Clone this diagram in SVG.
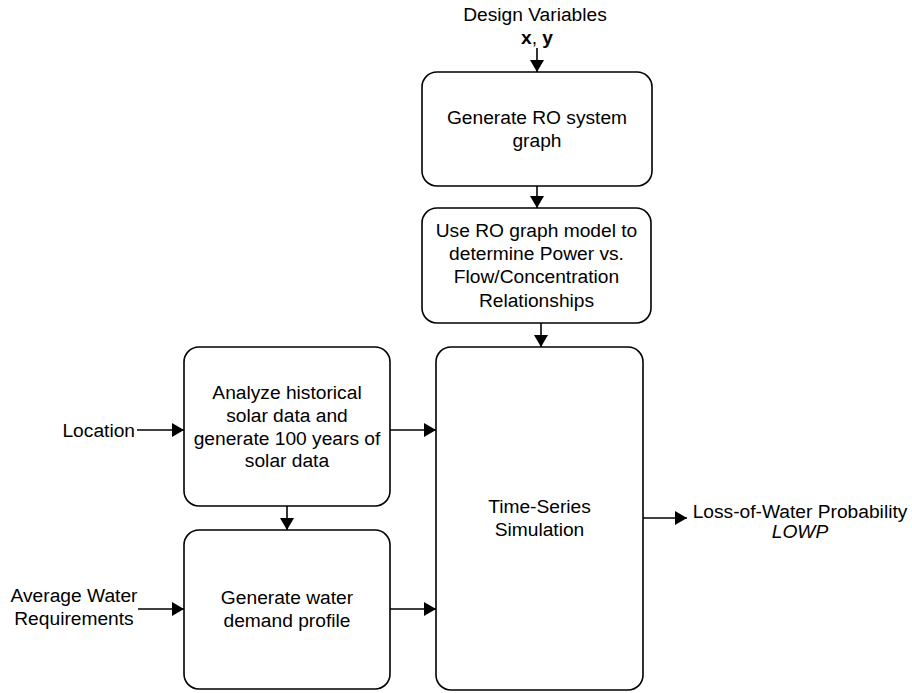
<svg xmlns="http://www.w3.org/2000/svg" width="912" height="693" viewBox="0 0 912 693">
  <style>
    .box { fill: #ffffff; stroke: #000000; stroke-width: 1.6; }
    .edge { fill: none; stroke: #000000; stroke-width: 1.6; }
    text { font-family: "Liberation Sans", Arial, Helvetica, sans-serif; font-size: 19.2px; fill: #000000; }
    .c { text-anchor: middle; }
  </style>
  <defs>
    <marker id="arrow" markerUnits="userSpaceOnUse" markerWidth="13" markerHeight="14" refX="12" refY="7" orient="auto">
      <path d="M0,0 L12,7 L0,14 z" fill="#000000"/>
    </marker>
  </defs>

  <rect width="912" height="693" fill="#ffffff"/>

  <!-- connectors -->
  <g id="connectors">
    <line class="edge" x1="537" y1="48" x2="537" y2="72" marker-end="url(#arrow)"/>
    <line class="edge" x1="537" y1="186" x2="537" y2="208" marker-end="url(#arrow)"/>
    <line class="edge" x1="541" y1="323" x2="541" y2="347" marker-end="url(#arrow)"/>
    <line class="edge" x1="137" y1="430" x2="184" y2="430" marker-end="url(#arrow)"/>
    <line class="edge" x1="390" y1="430" x2="436" y2="430" marker-end="url(#arrow)"/>
    <line class="edge" x1="287" y1="506" x2="287" y2="530" marker-end="url(#arrow)"/>
    <line class="edge" x1="138" y1="609" x2="184" y2="609" marker-end="url(#arrow)"/>
    <line class="edge" x1="390" y1="609" x2="436" y2="609" marker-end="url(#arrow)"/>
    <line class="edge" x1="643" y1="518" x2="687" y2="518" marker-end="url(#arrow)"/>
  </g>

  <!-- inputs -->
  <g id="design-variables">
    <text class="c" x="535" y="21">Design Variables</text>
    <text class="c" x="537" y="44" font-weight="bold">x<tspan font-weight="normal">,</tspan> y</text>
  </g>

  <g id="location">
    <text x="135" y="437" text-anchor="end">Location</text>
  </g>

  <g id="average-water">
    <text class="c" x="74" y="602">Average Water</text>
    <text class="c" x="74" y="625">Requirements</text>
  </g>

  <!-- process blocks -->
  <g id="generate-graph">
    <rect class="box" x="422" y="72" width="230" height="114" rx="15" ry="15"/>
    <text class="c" x="537" y="124">Generate RO system</text>
    <text class="c" x="537" y="147">graph</text>
  </g>

  <g id="ro-model">
    <rect class="box" x="422" y="208" width="229" height="115" rx="15" ry="15"/>
    <text class="c" x="536.5" y="237">Use RO graph model to</text>
    <text class="c" x="536.5" y="260">determine Power vs.</text>
    <text class="c" x="536.5" y="283">Flow/Concentration</text>
    <text class="c" x="536.5" y="307">Relationships</text>
  </g>

  <g id="solar-data">
    <rect class="box" x="184" y="347" width="206" height="159" rx="15" ry="15"/>
    <text class="c" x="287" y="399">Analyze historical</text>
    <text class="c" x="287" y="422">solar data and</text>
    <text class="c" x="287" y="445">generate 100 years of</text>
    <text class="c" x="287" y="467">solar data</text>
  </g>

  <g id="water-demand">
    <rect class="box" x="184" y="530" width="206" height="159" rx="15" ry="15"/>
    <text class="c" x="287" y="604">Generate water</text>
    <text class="c" x="287" y="627">demand profile</text>
  </g>

  <g id="time-series">
    <rect class="box" x="436" y="347" width="207" height="343" rx="15" ry="15"/>
    <text class="c" x="539.5" y="513">Time-Series</text>
    <text class="c" x="539.5" y="536">Simulation</text>
  </g>

  <!-- output -->
  <g id="lowp">
    <text class="c" x="800" y="518">Loss-of-Water Probability</text>
    <text class="c" x="800" y="538" font-style="italic">LOWP</text>
  </g>
</svg>
